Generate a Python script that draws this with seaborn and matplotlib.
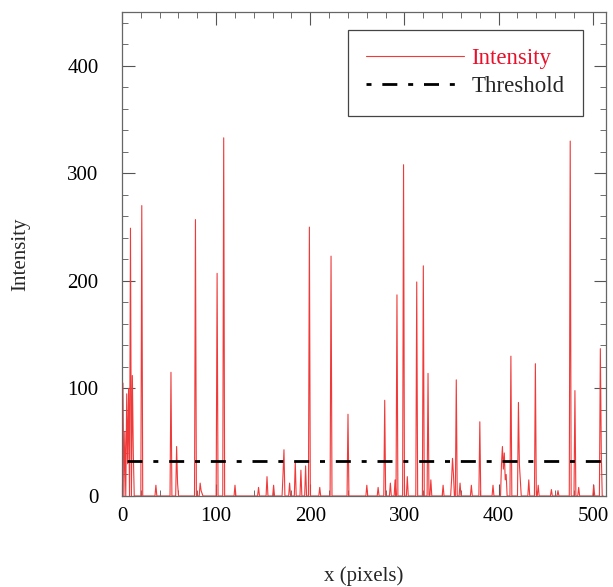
import matplotlib
matplotlib.use("Agg")
import matplotlib.pyplot as plt
import seaborn as sns
from matplotlib.ticker import MultipleLocator

# ---- data ----
pixel_x = [0, 1, 2, 3, 4, 5, 6, 7, 8, 9, 10, 11, 12, 13,
           20, 21, 22,
           35, 36, 37,
           51, 52, 53, 57, 58, 59, 60,
           77, 78, 79, 82, 83, 84, 86,
           100, 101, 102, 107, 108, 109,
           119, 120, 121,
           144, 145, 146,
           153, 154, 155,
           160, 161, 162,
           170, 171, 172, 173,
           177, 178, 179,
           183, 184, 185, 189, 190, 191, 194, 195, 196,
           198, 199, 200,
           209, 210, 211,
           221, 222, 223,
           239, 240, 241,
           259, 260, 261,
           271, 272, 273,
           278, 279, 280,
           284, 285, 286,
           289, 290, 291, 292, 293, 298, 299, 300, 302, 303, 304,
           312, 313, 314, 319, 320, 321, 324, 325, 326, 327, 328, 329,
           340, 341, 342,
           349, 350, 351, 352, 353, 354, 355, 356, 358, 359, 360,
           370, 371, 372,
           379, 380, 381,
           393, 394, 395,
           402, 403, 404, 405, 406, 407, 408, 409, 412, 413, 414, 420, 421, 422, 423, 424,
           431, 432, 433, 438, 439, 440, 441, 442, 443,
           455, 456, 457,
           462, 463, 464,
           475, 476, 477, 480, 481, 482, 484, 485, 486,
           500, 501, 502,
           507, 508, 509, 510, 511]
intensity = [0, 105, 0, 60, 0, 95, 30, 100, 0, 249, 0, 112, 40, 0,
             0, 270, 0,
             0, 10, 0,
             0, 115, 0, 0, 46, 12, 0,
             0, 257, 0, 0, 12, 5, 0,
             0, 207, 0, 0, 333, 0,
             0, 10, 0,
             0, 8, 0,
             0, 18, 0,
             0, 10, 0,
             0, 20, 43, 0,
             0, 12, 0,
             0, 32, 0, 0, 24, 0, 0, 28, 0,
             0, 250, 0,
             0, 8, 0,
             0, 223, 0,
             0, 76, 0,
             0, 10, 0,
             0, 8, 0,
             0, 89, 0,
             0, 12, 0,
             0, 15, 0, 187, 0, 0, 308, 0, 0, 18, 0,
             0, 199, 0, 0, 214, 0, 0, 114, 0, 0, 15, 0,
             0, 10, 0,
             0, 15, 35, 20, 0, 0, 108, 0, 0, 12, 0,
             0, 10, 0,
             0, 69, 0,
             0, 10, 0,
             0, 30, 46, 25, 40, 15, 20, 0, 0, 130, 0, 0, 87, 30, 15, 0,
             0, 15, 0, 0, 123, 0, 0, 10, 0,
             0, 6, 0,
             0, 5, 0,
             0, 330, 0, 0, 98, 0, 0, 8, 0,
             0, 10, 0,
             0, 137, 40, 0, 0]
threshold_x = [5, 511]
threshold_y = [32.5, 32.5]

x_ticks = [0, 100, 200, 300, 400, 500]
y_ticks = [0, 100, 200, 300, 400]

# ---- style ----
sns.set_style("ticks")
plt.rcParams['font.family'] = ['Liberation Serif', 'DejaVu Serif']

fig = plt.figure(figsize=(6.13, 5.87), dpi=100)
ax = fig.add_axes([122 / 613, 91 / 587, 484 / 613, 484 / 587])

dash = (5.4, 3.9, 1.8, 3.9)
sns.lineplot(x=pixel_x, y=intensity, ax=ax, color='#f03a3a', linewidth=0.8,
             label='Intensity', estimator=None, sort=False)
sns.lineplot(x=threshold_x, y=threshold_y, ax=ax, color='black', linewidth=2.0,
             linestyle=(0, dash), label='Threshold',
             estimator=None, sort=False)

ax.set_xlim(0, 514)
ax.set_ylim(0, 450)
ax.set_xticks(x_ticks)
ax.set_yticks(y_ticks)
ax.xaxis.set_minor_locator(MultipleLocator(20))
ax.yaxis.set_minor_locator(MultipleLocator(20))
ax.tick_params(which='both', direction='in', top=True, right=True,
               colors='#555555', labelcolor='black', labelsize=15)
ax.tick_params(which='major', length=9, width=0.8)
ax.tick_params(which='minor', length=4, width=0.6)
ax.tick_params(axis='y', which='both', pad=17)
ax.tick_params(axis='x', which='both', pad=8)
for s in ax.spines.values():
    s.set_color('#666666')
    s.set_linewidth(0.9)

ax.set_xlabel('x (pixels)', fontsize=15)
ax.set_ylabel('Intensity', fontsize=15)
ax.xaxis.set_label_coords(0.5, -0.145)
ax.yaxis.set_label_coords(-0.19, 0.5)

leg = ax.legend(loc='upper right', bbox_to_anchor=(0.952, 0.963), fontsize=16.5,
                frameon=True, fancybox=False, framealpha=1, edgecolor='#444444',
                handlelength=4.3, handletextpad=0.3, labelspacing=0.3,
                borderpad=0.8, borderaxespad=0)
leg.get_frame().set_linewidth(0.9)
leg.get_texts()[0].set_color('#e8102a')
leg.get_lines()[1].set_linestyle((9.3, dash))

fig.savefig('out.png', dpi=100)
